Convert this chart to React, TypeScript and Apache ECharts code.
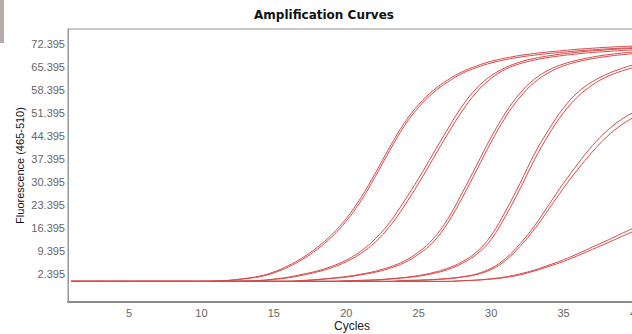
import React, { useEffect, useRef } from "react";
import * as echarts from "echarts";

const cycles = [1,2,3,4,5,6,7,8,9,10,11,12,13,14,15,16,17,18,19,20,21,22,23,24,25,26,27,28,29,30,31,32,33,34,35,36,37,38,39,40];

const xTicks = [5, 10, 15, 20, 25, 30, 35, 40];
const yTicks = [2.395, 9.395, 16.395, 23.395, 30.395, 37.395, 44.395, 51.395, 58.395, 65.395, 72.395];

const curveA1 = [0,0,0,0,0,0,0,0,0,0,0.1,0.4,0.9,1.6,2.9,4.8,7.3,10.4,14.3,19.2,25.5,33,41,48.3,54,58.3,61.5,64,65.8,67.2,68.2,69,69.6,70.1,70.5,70.9,71.2,71.5,71.7,71.9];
const curveA2 = [0,0,0,0,0,0,0,0,0,0,0.1,0.3,0.8,1.4,2.6,4.4,6.8,9.8,13.6,18.4,24.5,32,40,47.4,53.2,57.6,60.9,63.5,65.3,66.7,67.7,68.5,69.1,69.6,70,70.4,70.7,71,71.2,71.4];
const curveB1 = [0,0,0,0,0,0,0,0,0,0,0,0,0.1,0.3,0.7,1.3,2.2,3.2,4.6,6.5,9.2,13,18,24.5,31.5,39,46.5,53.5,59,62.8,65.3,67,68.1,68.9,69.5,70,70.4,70.7,71,71.2];
const curveB2 = [0,0,0,0,0,0,0,0,0,0,0,0,0.1,0.2,0.6,1.1,1.9,2.9,4.2,6,8.5,12,16.8,23,30,37.5,45,52,57.8,62,64.8,66.5,67.6,68.4,69,69.5,69.9,70.2,70.5,70.7];
const curveC1 = [0,0,0,0,0,0,0,0,0,0,0,0,0,0,0,0,0.3,0.6,1,1.5,2.2,3.1,4.4,6.2,9,13,19,27,35.5,44,51.5,57.5,61.8,64.6,66.4,67.6,68.5,69.2,69.7,70.1];
const curveC2 = [0,0,0,0,0,0,0,0,0,0,0,0,0,0,0,0,0.2,0.5,0.9,1.3,2,2.8,4,5.7,8.3,12,17.8,25.5,34,42.5,50.2,56.3,60.8,63.8,65.8,67.1,68,68.7,69.2,69.6];
const curveD1 = [0,0,0,0,0,0,0,0,0,0,0,0,0,0,0,0,0,0,0,0.2,0.3,0.5,0.8,1.2,1.8,2.7,4,6,9,14,21.5,30,39,46.5,53,57.8,61,63.3,65,66.4];
const curveD2 = [0,0,0,0,0,0,0,0,0,0,0,0,0,0,0,0,0,0,0,0.1,0.3,0.4,0.7,1.1,1.6,2.4,3.6,5.5,8.3,12.8,20,28.3,37.2,45,51.5,56.5,60,62.5,64.2,65.5];
const curveE1 = [0,0,0,0,0,0,0,0,0,0,0,0,0,0,0,0,0,0,0,0,0,0,0,0.3,0.4,0.6,0.9,1.4,2.3,4,7,11.5,17,23.5,30,36,41.5,46,49.5,52];
const curveE2 = [0,0,0,0,0,0,0,0,0,0,0,0,0,0,0,0,0,0,0,0,0,0,0,0.2,0.3,0.5,0.8,1.3,2.1,3.6,6.4,10.7,16,22.2,28.5,34.3,39.6,44.2,47.8,50.5];
const curveF1 = [0,0,0,0,0,0,0,0,0,0,0,0,0,0,0,0,0,0,0,0,0,0,0,0,0,0,0,0.2,0.4,0.8,1.4,2.3,3.5,5,6.6,8.5,10.5,12.5,14.6,16.6];
const curveF2 = [0,0,0,0,0,0,0,0,0,0,0,0,0,0,0,0,0,0,0,0,0,0,0,0,0,0,0,0.2,0.4,0.7,1.2,2,3.2,4.6,6.1,7.9,9.8,11.7,13.7,15.6];

const curves = [curveA1, curveA2, curveB1, curveB2, curveC1, curveC2, curveD1, curveD2, curveE1, curveE2, curveF1, curveF2];

export default function App() {
  const ref = useRef<HTMLDivElement>(null);
  useEffect(() => {
    const chart = echarts.init(ref.current!, null, { renderer: "svg" });
    const font = "'Liberation Sans', Arial, sans-serif";
    chart.setOption({
      animation: false,
      backgroundColor: "#ffffff",
      grid: {
        left: 68,
        top: 29,
        right: -4,
        bottom: 32,
        outerBoundsMode: "none",
        containLabel: false,
        show: true,
        borderColor: "#b8b8b8",
        borderWidth: 1.5,
        backgroundColor: "transparent",
      },
      graphic: [
        {
          type: "rect",
          left: 0,
          top: 0,
          shape: { width: 4, height: 43 },
          style: { fill: "#b4aaaa" },
          silent: true,
        },
        {
          type: "text",
          x: 324,
          y: 15,
          style: {
            text: "Amplification Curves",
            fill: "#111111",
            font: "bold 12px 'DejaVu Sans', sans-serif",
            textAlign: "center",
            textVerticalAlign: "middle",
          },
          silent: true,
        },
      ],
      xAxis: {
        type: "value",
        min: 0.79,
        max: 40,
        axisLine: { show: true, onZero: false, lineStyle: { color: "#8c8c8c", width: 2 } },
        axisTick: { show: false },
        splitLine: { show: false },
        axisLabel: {
          customValues: xTicks,
          color: "#666666",
          fontSize: 11,
          fontFamily: font,
          margin: 5,
          showMaxLabel: true,
        },
        name: "Cycles",
        nameLocation: "middle",
        nameGap: 18,
        nameMoveOverlap: false,
        nameTextStyle: { color: "#222222", fontSize: 12, fontFamily: font },
      },
      yAxis: {
        type: "value",
        min: -6.29,
        max: 77.07,
        axisLine: { show: true, onZero: false, lineStyle: { color: "#9a9a9a", width: 1 } },
        axisTick: { show: false },
        splitLine: { show: false },
        axisLabel: {
          customValues: yTicks,
          formatter: (v: number) => v.toFixed(3),
          color: "#666666",
          fontSize: 11,
          fontFamily: font,
          margin: 3,
        },
        name: "Fluorescence (465-510)",
        nameLocation: "middle",
        nameGap: 43,
        nameMoveOverlap: false,
        nameTextStyle: { color: "#111111", fontSize: 11, fontFamily: font },
      },
      series: curves.map((c, i) => ({
        type: "line",
        name: "S" + (i + 1),
        data: cycles.map((x, j) => [x, c[j]]),
        showSymbol: false,
        symbol: "none",
        smooth: 0.4,
        lineStyle: { color: "#d64a4a", width: 1 },
        clip: true,
      })),
    });
    return () => chart.dispose();
  }, []);
  return (
    <div
      ref={ref}
      style={{ position: "fixed", left: 0, top: 0, width: 632, height: 334 }}
    />
  );
}
